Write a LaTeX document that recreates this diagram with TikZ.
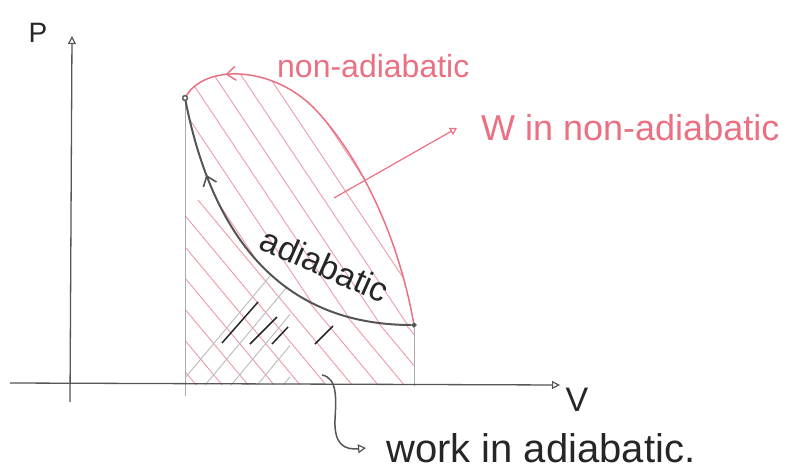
\documentclass[tikz,border=0pt]{standalone}
\usepackage{fontspec}
\setmainfont{Liberation Sans}
\usetikzlibrary{arrows.meta,decorations.markings}
\definecolor{pinkink}{RGB}{234,112,130}
\definecolor{grayink}{RGB}{85,85,85}
\definecolor{lightgray}{RGB}{170,170,170}
\tikzset{
  axisline/.style={draw=grayink, line width=1.3pt},
  dropline/.style={draw=lightgray, line width=1pt},
  adiab/.style={draw=grayink, line width=2pt},
  nonadiab/.style={draw=pinkink, line width=1.5pt},
  hatchred/.style={draw=pinkink!70, line width=0.9pt},
  hatchgray/.style={draw=lightgray!80, line width=0.9pt},
  darkstroke/.style={draw=black!85, line width=1.5pt},
  pt/.style={circle, draw=grayink, fill=white, line width=1.2pt, inner sep=1.6pt},
  opentip/.style={-{Triangle[open, length=8pt, width=8pt, line width=1.2pt]}},
  pinklabel/.style={text=pinkink, font=\fontsize{36}{38}\selectfont, anchor=west, inner sep=0pt},
  blacklabel/.style={text=black!85, inner sep=0pt}
}
\begin{document}
\begin{tikzpicture}[x=1pt,y=-1pt]
\useasboundingbox (0,0) rectangle (800,474);
% key points
\node[pt] (A) at (185,98) {};
\node[pt, fill=grayink, inner sep=1.4pt] (B) at (414,325) {};
\coordinate (Pbot) at (70,402);
\coordinate (Ptop) at (72,36);
\coordinate (Vleft) at (10,383);
\coordinate (Vright) at (560,385);
\coordinate (Abot) at (185,396);
\coordinate (Bbot) at (414,386);
% hatching between curves
\begin{scope}
  \clip (414,325) .. controls (395,220) and (350,145) .. (313,107)
        .. controls (270,65) and (205,65) .. (185,98)
        .. controls (212,235) and (280,325) .. (414,325) -- cycle;
  \foreach \i in {-6,...,14} {
    \draw[hatchred] (150+\i*27,60) -- ++(220,330);
  }
\end{scope}
% hatching under adiabatic
\begin{scope}
  \clip (185,98) .. controls (212,235) and (280,325) .. (414,325)
        -- (414,385) -- (185,385) -- cycle;
  \foreach \i in {-6,...,12} {
    \draw[hatchred] (120+\i*26,200) -- ++(200,240);
  }
  \begin{scope}
    \clip (180,230) rectangle (290,395);
    \foreach \i in {0,...,8} {
      \draw[hatchgray] (150+\i*26,420) -- ++(200,-240);
    }
  \end{scope}
\end{scope}
% dark strokes
\draw[darkstroke] (222,343) -- (258,302);
\draw[darkstroke] (250,344) -- (277,317);
\draw[darkstroke] (272,344) -- (288,327);
\draw[darkstroke] (315,344) -- (333,326);
% drop lines
\draw[dropline] (A) -- (Abot);
\draw[dropline] (B) -- (Bbot);
% axes
\draw[axisline, opentip] (Pbot) -- (Ptop);
\draw[axisline, opentip] (Vleft) -- (Vright);
\node[blacklabel, font=\fontsize{28}{30}\selectfont] (Plab) at (38,33) {P};
\node[blacklabel, font=\fontsize{34}{36}\selectfont] (Vlab) at (577,400) {V};
% adiabatic curve with arrow
\draw[adiab, decoration={markings, mark=at position 0.78 with {\arrow{Straight Barb[length=9pt, width=14pt, line width=1.6pt]}}}, postaction={decorate}]
  (B) .. controls (280,325) and (212,235) .. (A);
% non-adiabatic curve with arrow
\draw[nonadiab, decoration={markings, mark=at position 0.88 with {\arrow{Straight Barb[length=9pt, width=14pt, line width=1.4pt]}}}, postaction={decorate}]
  (B) .. controls (395,220) and (350,145) .. (313,107)
      .. controls (270,65) and (205,65) .. (A);
\draw[grayink] (A) circle (3pt);
% labels
\node[pinklabel, font=\fontsize{32}{34}\selectfont] (nalab) at (277,66) {non-adiabatic};
\node[pinklabel] (wlab) at (481,128) {W in non-adiabatic};
\node[blacklabel, font=\fontsize{34}{36}\selectfont, rotate=-24] (adlab) at (325,265) {adiabatic};
\node[blacklabel, font=\fontsize{40}{42}\selectfont, anchor=west] (wklab) at (386,448) {work in adiabatic.};
% W arrow
\coordinate (wtail) at (334,198);
\draw[draw=pinkink, line width=1.2pt, -{Triangle[open, length=7pt, width=8pt, line width=1.2pt]}] (wtail) -- ([xshift=-24pt]wlab.west);
% work arrow
\coordinate (wkstart) at (322,375);
\draw[draw=grayink, line width=1.5pt, -{Triangle[open, length=8pt, width=9pt, line width=1.2pt]}]
  (wkstart) .. controls (338,378) and (336,400) .. (335,420)
  .. controls (334,445) and (345,450) .. ([xshift=-20pt]wklab.west);
\end{tikzpicture}
\end{document}
